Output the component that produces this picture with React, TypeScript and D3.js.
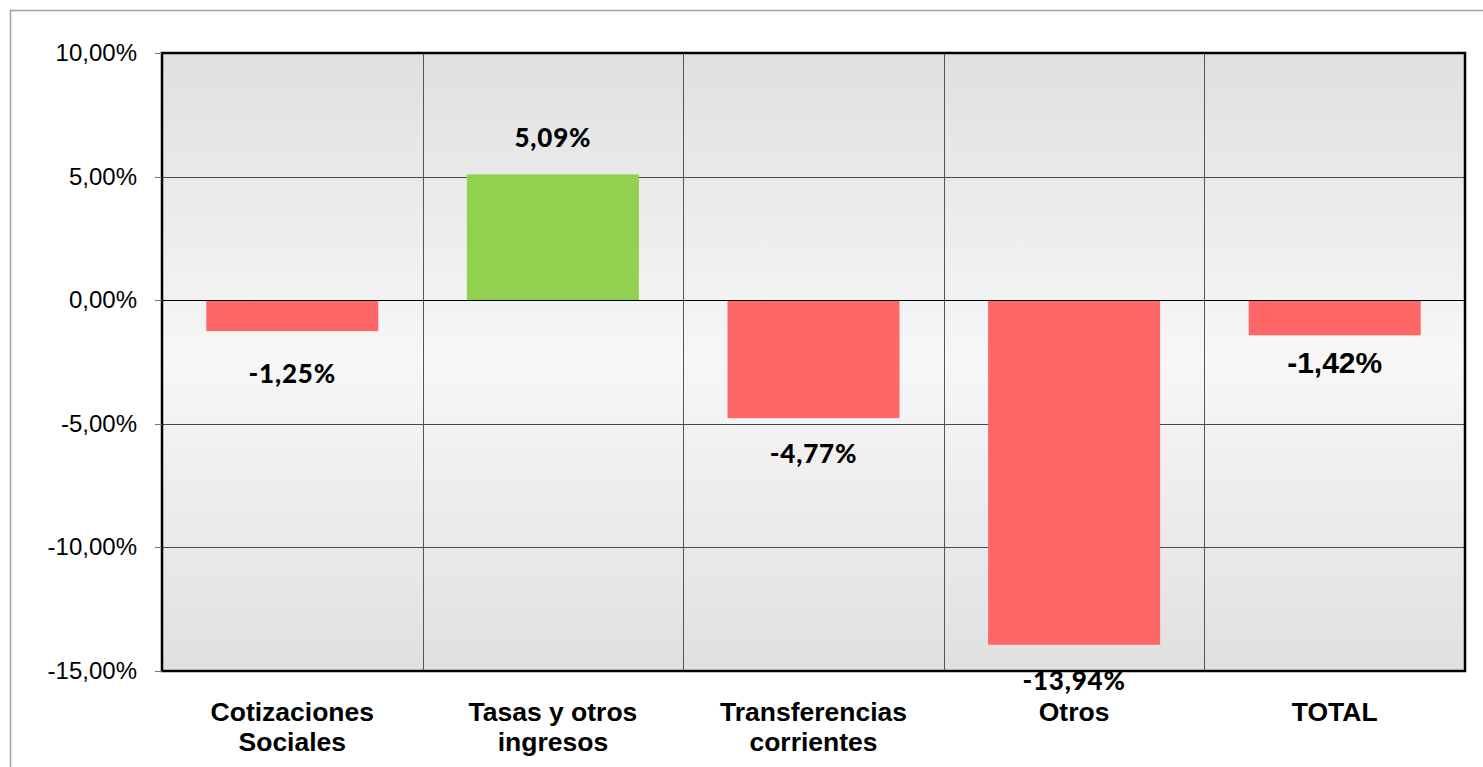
import * as d3 from "d3";
import * as React from "react";

const categories = [
  "Cotizaciones\nSociales",
  "Tasas y otros\ningresos",
  "Transferencias\ncorrientes",
  "Otros",
  "TOTAL",
];
const values = [-1.25, 5.09, -4.77, -13.94, -1.42];
const yTicks = [10, 5, 0, -5, -10, -15];

const fmt = (v: number) => v.toFixed(2).replace(".", ",") + "%";

export default function App() {
  const ref = React.useRef<SVGSVGElement>(null);

  React.useEffect(() => {
    const width = 1483,
      height = 767;
    const plot = { left: 162, right: 1465, top: 53, bottom: 671 };

    const x = d3
      .scaleBand()
      .domain(categories)
      .range([plot.left, plot.right])
      .paddingInner(0.34)
      .paddingOuter(0.17);
    const step = x.step();
    const y = d3.scaleLinear().domain([-15, 10]).range([plot.bottom, plot.top]);
    const crisp = (v: number) => Math.round(v) + 0.5;

    const svg = d3.select(ref.current as SVGSVGElement);
    svg.selectAll("*").remove();
    svg.attr("width", width).attr("height", height);

    // background gradient, lighter in the middle
    const grad = svg
      .append("defs")
      .append("linearGradient")
      .attr("id", "bg")
      .attr("x1", 0)
      .attr("y1", 0)
      .attr("x2", 0)
      .attr("y2", 1);
    grad.append("stop").attr("offset", "0%").attr("stop-color", "#e0e0e0");
    grad.append("stop").attr("offset", "50%").attr("stop-color", "#f7f7f7");
    grad.append("stop").attr("offset", "100%").attr("stop-color", "#e0e0e0");

    svg.append("rect").attr("width", width).attr("height", height).attr("fill", "#fff");

    // outer chart border (only top and left visible)
    svg
      .append("path")
      .attr("d", `M10.5,${height} V10.5 H${width}`)
      .attr("fill", "none")
      .attr("stroke", "#a0a0a0")
      .attr("stroke-width", 1.5);

    svg
      .append("rect")
      .attr("x", plot.left)
      .attr("y", plot.top)
      .attr("width", plot.right - plot.left)
      .attr("height", plot.bottom - plot.top)
      .attr("fill", "url(#bg)");

    // horizontal grid
    svg
      .append("g")
      .selectAll("line")
      .data(yTicks.filter((t) => t !== 10 && t !== -15 && t !== 0))
      .enter()
      .append("line")
      .attr("x1", plot.left)
      .attr("x2", plot.right)
      .attr("y1", (d) => crisp(y(d)))
      .attr("y2", (d) => crisp(y(d)))
      .attr("stroke", "#4a4a4a")
      .attr("stroke-width", 1);

    // vertical grid between categories
    svg
      .append("g")
      .selectAll("line")
      .data(categories.slice(1))
      .enter()
      .append("line")
      .attr("x1", (d) => crisp((x(d) as number) - step * 0.17))
      .attr("x2", (d) => crisp((x(d) as number) - step * 0.17))
      .attr("y1", plot.top)
      .attr("y2", plot.bottom)
      .attr("stroke", "#555")
      .attr("stroke-width", 1);

    // bars
    svg
      .append("g")
      .selectAll("rect")
      .data(values)
      .enter()
      .append("rect")
      .attr("x", (d, i) => x(categories[i]) as number)
      .attr("width", x.bandwidth())
      .attr("y", (d) => y(Math.max(0, d)))
      .attr("height", (d) => Math.abs(y(d) - y(0)))
      .attr("fill", (d) => (d >= 0 ? "#92d050" : "#ff6666"));

    // zero line
    svg
      .append("line")
      .attr("x1", plot.left)
      .attr("x2", plot.right)
      .attr("y1", crisp(y(0)))
      .attr("y2", crisp(y(0)))
      .attr("stroke", "#000")
      .attr("stroke-width", 1);

    // plot border
    svg
      .append("rect")
      .attr("x", plot.left)
      .attr("y", plot.top)
      .attr("width", plot.right - plot.left)
      .attr("height", plot.bottom - plot.top)
      .attr("fill", "none")
      .attr("stroke", "#000")
      .attr("stroke-width", 2.5);

    // y ticks
    const yg = svg.append("g");
    yg.selectAll("line")
      .data(yTicks)
      .enter()
      .append("line")
      .attr("x1", plot.left - 7)
      .attr("x2", plot.left)
      .attr("y1", (d) => crisp(y(d)))
      .attr("y2", (d) => crisp(y(d)))
      .attr("stroke", "#777");
    yg.selectAll("text")
      .data(yTicks)
      .enter()
      .append("text")
      .attr("x", 137)
      .attr("y", (d) => y(d) + 8)
      .attr("text-anchor", "end")
      .attr("font-family", "'Liberation Sans', Arial, sans-serif")
      .attr("font-size", 24)
      .attr("fill", "#000")
      .text((d) => fmt(d));

    // category labels
    const cg = svg.append("g");
    categories.forEach((c) => {
      const t = cg
        .append("text")
        .attr("x", (x(c) as number) + x.bandwidth() / 2)
        .attr("y", 721)
        .attr("text-anchor", "middle")
        .attr("font-family", "'Liberation Sans', Arial, sans-serif")
        .attr("font-weight", "bold")
        .attr("font-size", 26.5)
        .attr("fill", "#000");
      c.split("\n").forEach((line, li) => {
        t.append("tspan")
          .attr("x", (x(c) as number) + x.bandwidth() / 2)
          .attr("dy", li === 0 ? 0 : 30)
          .text(line);
      });
    });

    // data labels
    svg
      .append("g")
      .selectAll("text")
      .data(values)
      .enter()
      .append("text")
      .attr("x", (d, i) => (x(categories[i]) as number) + x.bandwidth() / 2)
      .attr("y", (d, i) =>
        d >= 0 ? y(d) - 27 : y(d) + (i === values.length - 1 ? 38 : i === 0 ? 52 : 45)
      )
      .attr("text-anchor", "middle")
      .attr("font-family", (d, i) =>
        i === values.length - 1
          ? "'Liberation Sans', Arial, sans-serif"
          : "Lato, 'Open Sans', sans-serif"
      )
      .attr("font-weight", (d, i) => (i === values.length - 1 ? "bold" : "900"))
      .attr("font-size", (d, i) => (i === values.length - 1 ? 30 : 26))
      .attr("letter-spacing", (d, i) => (i === values.length - 1 ? 0 : 0.8))
      .attr("fill", "#000")
      .text((d) => fmt(d));
  }, []);

  return (
    <svg
      ref={ref}
      style={{ position: "absolute", left: 0, top: 0, display: "block" }}
    />
  );
}
